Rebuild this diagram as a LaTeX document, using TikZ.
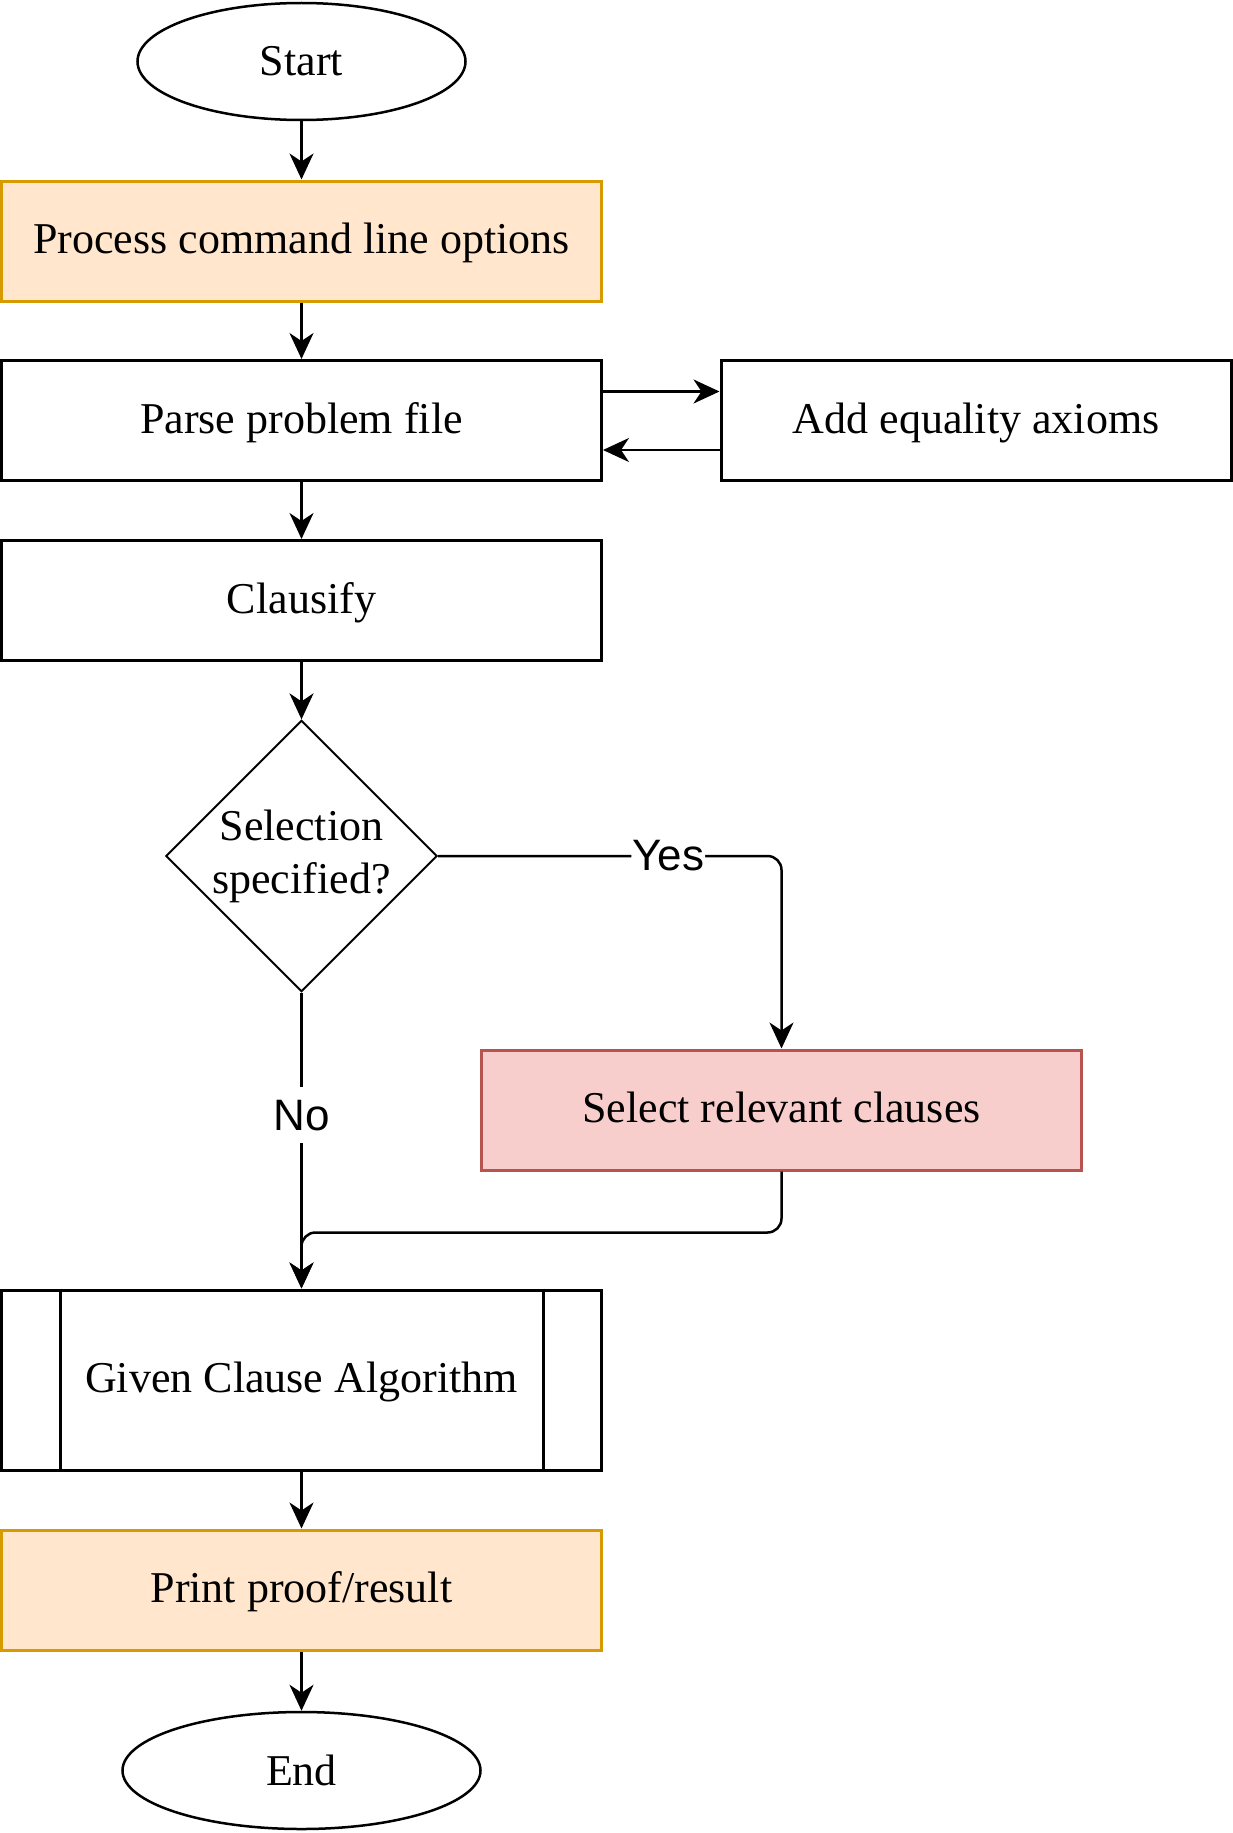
\documentclass[tikz,border=0pt]{standalone}
\usepackage{fontspec}
\setmainfont{Liberation Serif}
\setsansfont{Liberation Sans}
\usetikzlibrary{arrows.meta,shapes.geometric}

\definecolor{orangefill}{HTML}{FFE6CC}
\definecolor{orangeline}{HTML}{D79B00}
\definecolor{redfill}{HTML}{F8CECC}
\definecolor{redline}{HTML}{B85450}

\begin{document}
\begin{tikzpicture}[x=1pt,y=-1pt,
  font=\fontsize{44}{53}\selectfont,
  terminal/.style={ellipse,draw,line width=2.5pt,inner sep=0pt,minimum height=117pt},
  stepbox/.style={rectangle,draw,line width=3pt,inner sep=0pt,minimum width=600pt,minimum height=120pt,text height=33pt,text depth=8pt},
  orangebox/.style={stepbox,draw=orangeline,fill=orangefill},
  redbox/.style={stepbox,draw=redline,fill=redfill},
  decision/.style={diamond,draw,line width=2pt,inner sep=0pt,aspect=1,minimum width=270pt,minimum height=270pt,align=center},
  arr/.style={line width=2.5pt,-{Stealth[length=26pt,width=24pt,inset=8pt]}},
  lbl/.style={font=\sffamily\fontsize{44}{53}\selectfont,fill=white,inner xsep=1pt,inner ysep=0pt,minimum height=56pt}]
  \useasboundingbox (0,0) rectangle (1233,1833);
  % main column
  \node[terminal,minimum width=328pt] (start) at (301.5,61.5) {Start};
  \node[orangebox] (proc) at (301.5,241) {Process command line options};
  \node[stepbox] (parse) at (301.5,420.5) {Parse problem file};
  \node[stepbox,minimum width=510pt] (add) at (976,420.5) {Add equality axioms};
  \node[stepbox] (clausify) at (301.5,600.5) {Clausify};
  \node[decision] (sel) at (301.5,856) {Selection\\specified?};
  \node[redbox] (relevant) at (781.5,1110) {Select relevant clauses};
  \node[stepbox,minimum height=180pt] (gca) at (301.5,1380) {Given Clause Algorithm};
  \draw[line width=3pt] ([xshift=60pt]gca.north west) -- ([xshift=60pt]gca.south west);
  \draw[line width=3pt] ([xshift=-60pt]gca.north east) -- ([xshift=-60pt]gca.south east);
  \node[orangebox] (print) at (301.5,1590) {Print proof/result};
  \node[terminal,minimum width=358pt] (end) at (301.5,1770.5) {End};
  % connectors
  \draw[arr] (start) -- (proc);
  \draw[arr] (proc) -- (parse);
  \draw[arr] ([yshift=29pt]parse.east) -- ([yshift=29pt]add.west);
  \draw[arr] ([yshift=-29.5pt]add.west) -- ([yshift=-29.5pt]parse.east);
  \draw[arr] (parse) -- (clausify);
  \draw[arr] (clausify) -- (sel);
  \draw[arr,rounded corners=14pt] (sel.east) -| node[lbl,pos=0.335]{Yes} (relevant.north);
  \draw[arr] (sel.south) -- node[lbl,pos=0.415]{No} (gca.north);
  \draw[arr,rounded corners=14pt] (relevant.south) -- ++(0,61) -| (gca.north);
  \draw[arr] (gca) -- (print);
  \draw[arr] (print) -- (end);
\end{tikzpicture}
\end{document}
